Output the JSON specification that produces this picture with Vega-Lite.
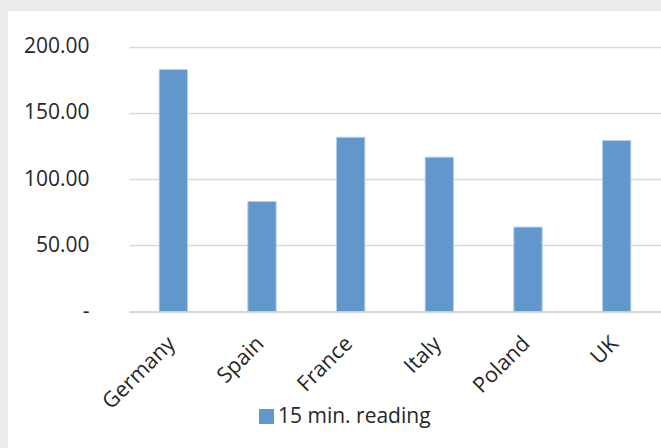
{
  "$schema": "https://vega.github.io/schema/vega-lite/v6.json",
  "width": 653,
  "height": 437,
  "autosize": {"type": "none"},
  "padding": {"left": 8, "top": 11, "right": 0, "bottom": 0},
  "background": "#ebedec",
  "config": {"font": "Open Sans", "view": {"fill": "white", "stroke": null}},
  "data": {
    "values": [
      {"country": "Germany", "value": 182.7, "series": "15 min. reading"},
      {"country": "Spain", "value": 83.0, "series": "15 min. reading"},
      {"country": "France", "value": 131.5, "series": "15 min. reading"},
      {"country": "Italy", "value": 116.5, "series": "15 min. reading"},
      {"country": "Poland", "value": 63.7, "series": "15 min. reading"},
      {"country": "UK", "value": 129.0, "series": "15 min. reading"}
    ]
  },
  "mark": {"type": "bar", "stroke": "#b9d0e8", "strokeWidth": 1},
  "encoding": {
    "x": {
      "field": "country",
      "type": "nominal",
      "sort": null,
      "scale": {"range": [121, 653], "paddingInner": 0.68, "paddingOuter": 0.34},
      "axis": {
        "title": null,
        "offset": -136.5,
        "labelAngle": -45,
        "labelFontSize": 21.5,
        "labelColor": "#262626",
        "labelPadding": 21,
        "labelOffset": -9,
        "ticks": false,
        "tickSize": 0,
        "domainColor": "#d9d9d9",
        "domainWidth": 2
      }
    },
    "y": {
      "field": "value",
      "type": "quantitative",
      "scale": {"domain": [0, 200], "range": [300.5, 35.5], "nice": false},
      "axis": {
        "title": null,
        "offset": -121,
        "values": [0, 50, 100, 150, 200],
        "labelExpr": "datum.value == 0 ? '-\u00a0\u00a0' : format(datum.value, '.2f')",
        "labelFontSize": 21,
        "labelColor": "#262626",
        "labelPadding": 40,
        "ticks": false,
        "tickSize": 0,
        "domain": false,
        "gridColor": "#d9d9d9",
        "gridWidth": 1.5
      }
    },
    "color": {
      "field": "series",
      "type": "nominal",
      "scale": {"range": ["#6297cb"]},
      "legend": {
        "title": null,
        "orient": "none",
        "legendX": 248,
        "legendY": 395,
        "padding": 0,
        "symbolType": "square",
        "symbolSize": 225,
        "symbolStrokeWidth": 0,
        "symbolOpacity": 1,
        "labelFontSize": 21,
        "labelColor": "#262626",
        "labelOffset": 1
      }
    }
  }
}
